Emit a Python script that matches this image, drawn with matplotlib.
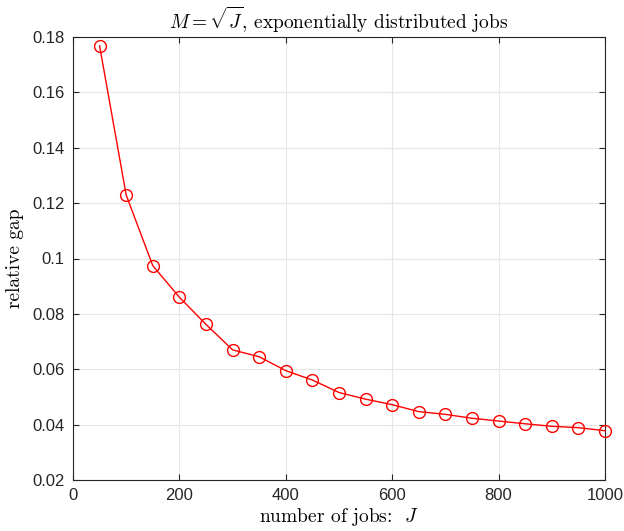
import numpy as np
import matplotlib
matplotlib.use("Agg")
from matplotlib import pyplot as plt

# number of jobs and the relative gap
jobs = [50, 100, 150, 200, 250, 300, 350, 400, 450, 500,
        550, 600, 650, 700, 750, 800, 850, 900, 950, 1000]
gap = [0.1768, 0.1229, 0.0974, 0.0860, 0.0762, 0.0670, 0.0645, 0.0595, 0.0561, 0.0516,
       0.0492, 0.0472, 0.0447, 0.0437, 0.0423, 0.0413, 0.0403, 0.0394, 0.0389, 0.0378]
xticks = [0, 200, 400, 600, 800, 1000]
yticks = [0.02, 0.04, 0.06, 0.08, 0.1, 0.12, 0.14, 0.16, 0.18]
ytick_labels = ["0.02", "0.04", "0.06", "0.08", "0.1", "0.12", "0.14", "0.16", "0.18"]

plt.rcParams["mathtext.fontset"] = "cm"
plt.rcParams["font.family"] = ["Liberation Sans", "DejaVu Sans"]

fig = plt.figure(figsize=(6.24, 5.31), dpi=100)
ax = fig.add_axes([73 / 624, 1 - 480 / 531, 532 / 624, 443 / 531])

ax.plot(jobs, gap, color="red", lw=1.0, marker="o", ms=8.5,
        mfc="none", mec="red", mew=1.0, clip_on=False, zorder=5)

ax.set_xlim(0, 1000)
ax.set_ylim(0.02, 0.18)
ax.set_xticks(xticks)
ax.set_yticks(yticks)
ax.set_yticklabels(ytick_labels)
ax.tick_params(direction="in", top=True, right=True, labelsize=12,
               length=4, width=0.8, colors="#262626", pad=6)
ax.grid(True, color="#e6e6e6", lw=0.8)
ax.set_axisbelow(True)
for s in ax.spines.values():
    s.set_color("#262626")
    s.set_linewidth(0.8)

serif = {"family": "cmr10", "size": 14}
ax.set_title(r"$M=\sqrt{J}$, exponentially distributed jobs", fontdict=serif, pad=6)
ax.set_xlabel(r"number of jobs:  $J$", fontdict=serif, labelpad=2)
ax.set_ylabel("relative gap", fontdict=serif, labelpad=6)

fig.savefig("out.png", dpi=100)
